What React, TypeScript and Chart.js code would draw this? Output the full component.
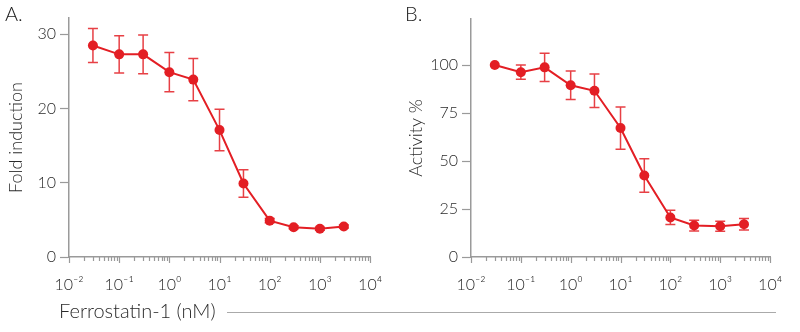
import React, { useEffect, useRef } from "react";
import { Chart, registerables } from "chart.js";

Chart.register(...registerables);

// ---- data ----
const concentrations = [0.03, 0.1, 0.3, 1, 3, 10, 30, 100, 300, 1000, 3000];
const foldInduction = [28.5, 27.3, 27.3, 24.9, 23.9, 17.1, 9.9, 4.9, 4.0, 3.8, 4.1];
const foldInductionError = [2.3, 2.5, 2.6, 2.65, 2.85, 2.8, 1.85, 0.3, 0.2, 0.2, 0.2];
const activityPercent = [100, 96.3, 98.8, 89.5, 86.6, 67.2, 42.5, 20.6, 16.4, 16.0, 17.1];
const activityError = [0, 3.7, 7.3, 7.4, 8.7, 11, 8.7, 3.7, 2.8, 2.6, 3.0];
const xTickValues = [0.01, 0.1, 1, 10, 100, 1000, 10000];
const xTickLabels = ["10⁻²", "10⁻¹", "10⁰", "10¹", "10²", "10³", "10⁴"];
const foldTicks = [0, 10, 20, 30];
const activityTicks = [0, 25, 50, 75, 100];

const RED = "#e31e24";
const ERR = "rgba(227,30,36,0.85)";
const AXIS = "#9a9a9a";
const TEXT = "#2a2a2a";
const FONT = "Lato, 'Open Sans', sans-serif";

type PanelProps = {
  left: number;
  letter: string;
  yTitle: string;
  means: number[];
  errors: number[];
  yMax: number;
  yTicks: number[];
  chartLeft: number;
  chartRight: number;
  chartTop: number;
};

const CANVAS_W = 400;
const CANVAS_H = 300;
const CHART_BOTTOM = 257;

function Panel(p: PanelProps) {
  const ref = useRef<HTMLCanvasElement>(null);
  useEffect(() => {
    if (!ref.current) return;
    const errorBars = {
      id: "errorBars",
      beforeDatasetsDraw(chart: any) {
        const ctx = chart.ctx;
        const xs = chart.scales.x;
        const ys = chart.scales.y;
        ctx.save();
        ctx.strokeStyle = ERR;
        ctx.lineWidth = 1.5;
        p.means.forEach((m, i) => {
          const e = p.errors[i];
          if (!e) return;
          const px = xs.getPixelForValue(concentrations[i]);
          const top = ys.getPixelForValue(m + e);
          const bot = ys.getPixelForValue(m - e);
          ctx.beginPath();
          ctx.moveTo(px, top);
          ctx.lineTo(px, bot);
          ctx.moveTo(px - 5, top);
          ctx.lineTo(px + 5, top);
          ctx.moveTo(px - 5, bot);
          ctx.lineTo(px + 5, bot);
          ctx.stroke();
        });
        ctx.restore();
      },
    };
    const logTicks = {
      id: "logTicks",
      afterDraw(chart: any) {
        const ctx = chart.ctx;
        const xs = chart.scales.x;
        const y0 = chart.chartArea.bottom;
        ctx.save();
        ctx.strokeStyle = AXIS;
        ctx.lineWidth = 1.2;
        for (let e = -2; e <= 4; e++) {
          for (let m = 1; m <= 9; m++) {
            if (e === 4 && m > 1) break;
            const v = m * Math.pow(10, e);
            const px = Math.round(xs.getPixelForValue(v)) + 0.5;
            const len = m === 1 ? 6 : 4;
            ctx.beginPath();
            ctx.moveTo(px, y0);
            ctx.lineTo(px, y0 + len);
            ctx.stroke();
          }
        }
        ctx.restore();
      },
    };
    const chart = new Chart(ref.current, {
      type: "line",
      data: {
        datasets: [
          {
            data: concentrations.map((x, i) => ({ x, y: p.means[i] })),
            borderColor: RED,
            backgroundColor: RED,
            borderWidth: 2,
            pointRadius: 5,
            pointBackgroundColor: RED,
            pointBorderWidth: 0,
            tension: 0,
          },
        ],
      },
      options: {
        animation: false,
        responsive: false,
        layout: {
          padding: { left: 0, right: CANVAS_W - p.chartRight, top: p.chartTop, bottom: 0 },
        },
        plugins: { legend: { display: false }, tooltip: { enabled: false } },
        scales: {
          x: {
            type: "logarithmic",
            min: 0.01,
            max: 10000,
            afterBuildTicks: (s: any) => {
              s.ticks = xTickValues.map((v) => ({ value: v }));
            },
            afterFit: (s: any) => {
              s.height = CANVAS_H - CHART_BOTTOM;
            },
            grid: { display: false, drawTicks: false },
            border: { display: true, color: AXIS, width: 1.5 },
            ticks: {
              autoSkip: false,
              maxRotation: 0,
              padding: 18,
              color: TEXT,
              font: { family: FONT, size: 16, weight: "300" },
              callback: (_v: any, i: number) => xTickLabels[i],
            },
          },
          y: {
            type: "linear",
            min: 0,
            max: p.yMax,
            afterBuildTicks: (s: any) => {
              s.ticks = p.yTicks.map((v) => ({ value: v }));
            },
            afterFit: (s: any) => {
              s.width = p.chartLeft;
            },
            grid: {
              display: true,
              drawOnChartArea: false,
              drawTicks: true,
              tickLength: 9,
              tickColor: AXIS,
              tickWidth: 1.2,
              color: AXIS,
            },
            border: { display: true, color: AXIS, width: 1.5 },
            ticks: {
              padding: 4,
              color: TEXT,
              font: { family: FONT, size: 16, weight: "300" },
            },
            title: {
              display: true,
              text: p.yTitle,
              color: TEXT,
              font: { family: FONT, size: 18, weight: "300" },
              padding: { top: 5, bottom: 0 },
            },
          },
        },
      },
      plugins: [errorBars, logTicks],
    } as any);
    return () => chart.destroy();
  }, []);
  return (
    <div style={{ position: "absolute", left: p.left, top: 0, width: CANVAS_W, height: CANVAS_H }}>
      <canvas ref={ref} width={CANVAS_W} height={CANVAS_H} style={{ width: CANVAS_W, height: CANVAS_H }} />
      <div
        style={{
          position: "absolute",
          left: 5,
          top: 1,
          fontFamily: FONT,
          fontSize: 20,
          fontWeight: 300,
          color: "#1a1a1a",
          lineHeight: "24px",
        }}
      >
        {p.letter}
      </div>
    </div>
  );
}

export default function App() {
  return (
    <div
      style={{
        position: "fixed",
        left: 0,
        top: 0,
        width: 800,
        height: 332,
        background: "#fff",
        overflow: "hidden",
      }}
    >
      <Panel
        left={0}
        letter="A."
        yTitle="Fold induction"
        means={foldInduction}
        errors={foldInductionError}
        yMax={32.2}
        yTicks={foldTicks}
        chartLeft={69}
        chartRight={372}
        chartTop={18}
      />
      <Panel
        left={400}
        letter="B."
        yTitle="Activity %"
        means={activityPercent}
        errors={activityError}
        yMax={124}
        yTicks={activityTicks}
        chartLeft={71}
        chartRight={376}
        chartTop={19}
      />
      <div
        style={{
          position: "absolute",
          left: 59,
          top: 298,
          fontFamily: FONT,
          fontSize: 20,
          fontWeight: 300,
          color: TEXT,
          lineHeight: "24px",
          whiteSpace: "nowrap",
        }}
      >
        Ferrostatin-1 (nM)
      </div>
      <div
        style={{
          position: "absolute",
          left: 227,
          top: 312,
          width: 549,
          height: 0,
          borderTop: "1px solid #aaaaaa",
        }}
      />
    </div>
  );
}
